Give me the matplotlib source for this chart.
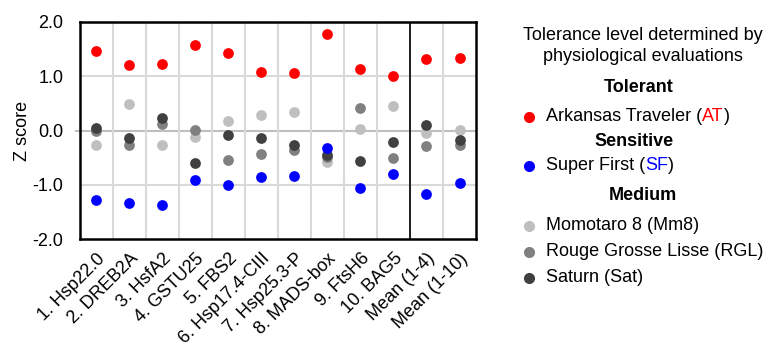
import numpy as np
import matplotlib.pyplot as plt
from matplotlib.lines import Line2D

plt.rcParams['font.family'] = ['Liberation Sans', 'DejaVu Sans']

genes = ['1. Hsp22.0', '2. DREB2A', '3. HsfA2', '4. GSTU25', '5. FBS2',
         '6. Hsp17.4-CIII', '7. Hsp25.3-P', '8. MADS-box', '9. FtsH6',
         '10. BAG5', 'Mean (1-4)', 'Mean (1-10)']

# z scores per cultivar, one value per gene / mean
at_vals = [1.47, 1.20, 1.22, 1.58, 1.42, 1.08, 1.06, 1.77, 1.14, 1.01, 1.32, 1.33]
sf_vals = [-1.28, -1.34, -1.38, -0.92, -1.01, -0.86, -0.84, -0.32, -1.06, -0.80, -1.17, -0.97]
mm8_vals = [-0.26, 0.48, -0.26, -0.12, 0.18, 0.29, 0.34, -0.58, 0.03, 0.45, -0.04, 0.01]
rgl_vals = [-0.01, -0.26, 0.12, 0.01, -0.55, -0.43, -0.36, -0.49, 0.41, -0.50, -0.28, -0.26]
sat_vals = [0.04, -0.13, 0.23, -0.60, -0.09, -0.13, -0.26, -0.46, -0.57, -0.22, 0.10, -0.17]

series = [
    ('Momotaro 8 (Mm8)', mm8_vals, '#BFBFBF'),
    ('Rouge Grosse Lisse (RGL)', rgl_vals, '#808080'),
    ('Saturn (Sat)', sat_vals, '#404040'),
    ('Arkansas Traveler (AT)', at_vals, '#FF0000'),
    ('Super First (SF)', sf_vals, '#0000FF'),
]

fig = plt.figure(figsize=(7.67, 3.47), dpi=100)
ax = fig.add_axes([0.1043, 0.3112, 0.5163, 0.6254])

x = np.arange(len(genes))
for name, vals, col in series:
    ax.scatter(x, vals, s=60, color=col, zorder=3, linewidths=0)

ax.set_xlim(-0.5, len(genes) - 0.5)
ax.set_ylim(-2, 2)
ax.set_yticks([-2, -1, 0, 1, 2])
ax.set_yticklabels(['-2.0', '-1.0', '0.0', '1.0', '2.0'], fontsize=13)
ax.set_ylabel('Z score', fontsize=13, labelpad=1)

# grid: horizontal at whole units, vertical between genes
for yv in [-1, 1]:
    ax.axhline(yv, color='#D9D9D9', lw=1.5, zorder=1)
ax.axhline(0, color='#BFBFBF', lw=1.5, zorder=1, xmin=-0.01, clip_on=False)
for xv in np.arange(0.5, len(genes) - 1, 1):
    ax.axvline(xv, color='#D9D9D9', lw=1.5, zorder=1)
ax.axvline(9.5, color='black', lw=1.2, zorder=2)

ax.set_xticks(x)
ax.set_xticklabels(genes, rotation=45, ha='right', rotation_mode='anchor', fontsize=13)
ax.tick_params(axis='x', length=0, pad=8)
ax.tick_params(axis='y', length=0, pad=12)
for sp in ax.spines.values():
    sp.set_linewidth(1.8)
    sp.set_color('black')

# legend panel on the right
fig.text(0.8377, 0.899, 'Tolerance level determined by', ha='center', va='center', fontsize=13)
fig.text(0.8377, 0.836, 'physiological evaluations', ha='center', va='center', fontsize=13)


def header(xc, y, label):
    fig.text(xc, y, label, ha='center', va='center', fontsize=13, fontweight='bold')


def entry(y, name, col, abbr=None, abbr_col=None):
    fig.add_artist(Line2D([0.69], [y], marker='o', color=col, markersize=8,
                          markeredgewidth=0, transform=fig.transFigure))
    if abbr is None:
        fig.text(0.712, y, name, ha='left', va='center', fontsize=13)
        return
    t1 = fig.text(0.712, y, name + ' (', ha='left', va='center', fontsize=13)
    t2 = ax.annotate(abbr, xy=(1, 0.5), xycoords=t1, ha='left', va='center',
                     fontsize=13, color=abbr_col)
    ax.annotate(')', xy=(1, 0.5), xycoords=t2, ha='left', va='center', fontsize=13)


header(0.832, 0.749, 'Tolerant')
entry(0.663, 'Arkansas Traveler', '#FF0000', 'AT', '#FF0000')
header(0.827, 0.591, 'Sensitive')
entry(0.522, 'Super First', '#0000FF', 'SF', '#0000FF')
header(0.838, 0.438, 'Medium')
entry(0.349, 'Momotaro 8 (Mm8)', '#BFBFBF')
entry(0.274, 'Rouge Grosse Lisse (RGL)', '#808080')
entry(0.199, 'Saturn (Sat)', '#404040')

fig.savefig('out.png', dpi=100)
